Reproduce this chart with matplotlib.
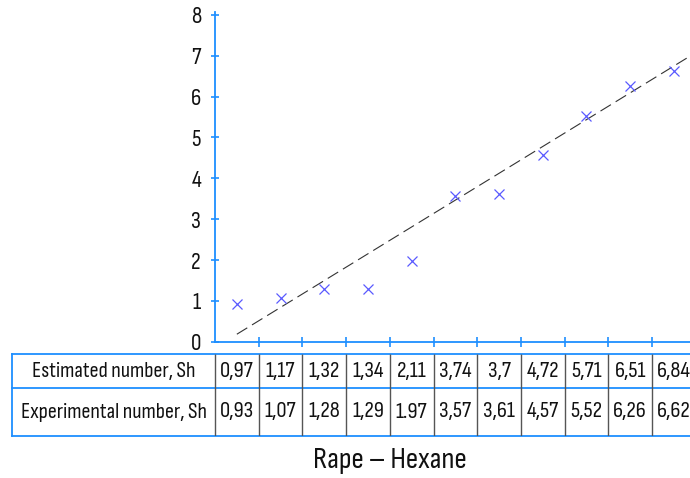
import numpy as np
import matplotlib
matplotlib.use("Agg")
import matplotlib.pyplot as plt

# ---- data ----
estimated = [0.97, 1.17, 1.32, 1.34, 2.11, 3.74, 3.7, 4.72, 5.71, 6.51, 6.84]
experimental = [0.93, 1.07, 1.28, 1.29, 1.97, 3.57, 3.61, 4.57, 5.52, 6.26, 6.62]
estimated_labels = ["0,97", "1,17", "1,32", "1,34", "2,11", "3,74", "3,7", "4,72", "5,71", "6,51", "6,84"]
experimental_labels = ["0,93", "1,07", "1,28", "1,29", "1.97", "3,57", "3,61", "4,57", "5,52", "6,26", "6,62"]
row_labels = ["Estimated number, Sh", "Experimental number, Sh"]
y_ticks = [0, 1, 2, 3, 4, 5, 6, 7, 8]
title = "Rape \u2013 Hexane"

FONT = ["Sofia Sans Condensed", "DejaVu Sans"]
plt.rcParams["font.family"] = FONT

BLUE = "#1e8fff"
MARK = "#5a5aff"
TXT = "#111111"

W, H = 690, 478
fig = plt.figure(figsize=(W / 100, H / 100), dpi=100)

def px_axes(left, top, right, bottom):
    return fig.add_axes([left / W, 1 - bottom / H, (right - left) / W, (bottom - top) / H])

n = len(estimated)
x = np.arange(1, n + 1)

# main plot axes
ax = px_axes(215, 11.7, 215 + 43.7 * n, 341.7)
ax.set_xlim(0.5, n + 0.5)
ax.set_ylim(0, 8.08)
for s in ["top", "right"]:
    ax.spines[s].set_visible(False)
for s in ["left", "bottom"]:
    ax.spines[s].set_color(BLUE)
    ax.spines[s].set_linewidth(1.3)
ax.set_yticks(y_ticks)
ax.set_yticklabels([str(v) for v in y_ticks])
ax.set_xticks(np.arange(1.5, n + 0.6, 1))
ax.set_xticklabels([])
ax.tick_params(axis="both", direction="inout", length=6, width=1.2, color=BLUE,
               labelsize=17, labelcolor=TXT, pad=7)
ax.tick_params(axis="x", length=7)

# trend line (linear fit of estimated values)
k, b = np.polyfit(x, estimated, 1)
xl = np.array([1.0, n + 0.3])
ax.plot(xl, k * xl + b, color="#333333", lw=0.8, dashes=(11, 5))
ax.plot(x, experimental, linestyle="none", marker="x", ms=7, mew=0.9, color=MARK)

# table axes
tb = px_axes(12.3, 354.3, 215 + 43.7 * n, 435.7)
x0 = 0.5 - (215 - 12.3) / 43.7
tb.set_xlim(x0, n + 0.5)
tb.set_ylim(0, 1)
tb.axis("off")
mid = 47.4 / 81.4
tb.plot([x0, n + 0.5], [1, 1], color=BLUE, lw=1.3, clip_on=False)
tb.plot([x0, n + 0.5], [0, 0], color=BLUE, lw=1.3, clip_on=False)
tb.plot([x0, n + 0.5], [mid, mid], color=BLUE, lw=1.3, clip_on=False)
tb.plot([x0, x0], [0, 1], color=BLUE, lw=1.3, clip_on=False)
tb.vlines(np.arange(0.5, n + 0.6, 1), 0, 1, color="#555555", lw=1.0)

top_c = (1 + mid) / 2
bot_c = mid / 2
hdr_c = (x0 + 0.5) / 2
tb.text(hdr_c, top_c, row_labels[0], ha="center", va="center", fontsize=16, color=TXT)
tb.text(hdr_c, bot_c, row_labels[1], ha="center", va="center", fontsize=16, color=TXT)
for xi, s1, s2 in zip(x, estimated_labels, experimental_labels):
    tb.text(xi, top_c, s1, ha="center", va="center", fontsize=16.5, color=TXT, clip_on=False)
    tb.text(xi, bot_c, s2, ha="center", va="center", fontsize=16.5, color=TXT, clip_on=False)

fig.text(390 / W, 1 - 461 / H, title, ha="center", va="center", fontsize=22, color=TXT)

fig.savefig("out.png", dpi=100)
